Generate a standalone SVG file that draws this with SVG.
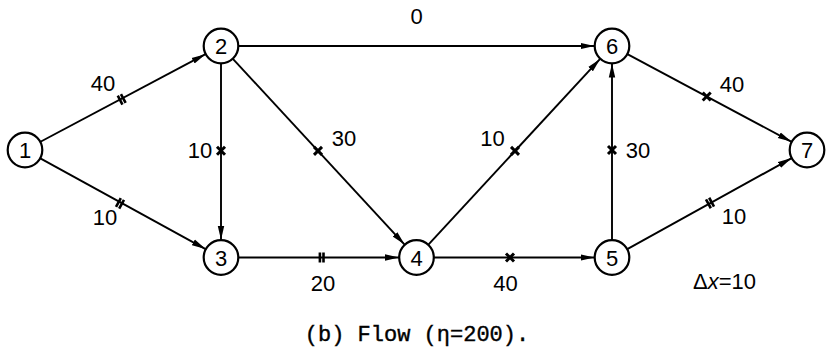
<svg xmlns="http://www.w3.org/2000/svg" xmlns:xlink="http://www.w3.org/1999/xlink" width="826" height="349" viewBox="0 0 826 349">
<style>
.node circle{fill:#fff;stroke:#000;stroke-width:2.2}
.node text,.lbl{font-family:"Liberation Sans",Arial,sans-serif;font-size:22px;fill:#000;text-anchor:middle}
.edge{stroke:#000;stroke-width:1.9;fill:none;marker-end:url(#arr)}
.cap{font-family:"Liberation Mono","Courier New",monospace;font-size:22px;fill:#000;stroke:#000;stroke-width:0.4;text-anchor:middle}
</style>
<defs>
<marker id="arr" viewBox="0 0 14 8" refX="14" refY="4" markerWidth="14" markerHeight="8" markerUnits="userSpaceOnUse" orient="auto">
<path d="M0,0.8 L14,4 L0,7.2 Z" fill="#000"/>
</marker>
<g id="bars"><path d="M-1.8,-5 V5 M1.8,-5 V5" stroke="#000" stroke-width="2.6" fill="none"/></g>
<g id="cross"><path d="M-4,-4 L4,4 M-4,4 L4,-4" stroke="#000" stroke-width="3" fill="none"/></g>
</defs>
<rect width="826" height="349" fill="#fff"/>
<g id="connectors">
<line class="edge" x1="40" y1="142" x2="205.5" y2="54.2"/>
<line class="edge" x1="39.9" y1="158.2" x2="205.6" y2="249.1"/>
<line class="edge" x1="221" y1="63.5" x2="221" y2="240"/>
<line class="edge" x1="238.5" y1="46" x2="594.5" y2="46"/>
<line class="edge" x1="232.9" y1="58.9" x2="404.6" y2="244.6"/>
<line class="edge" x1="238.5" y1="257.5" x2="399" y2="257.5"/>
<line class="edge" x1="428.4" y1="244.6" x2="600.1" y2="58.9"/>
<line class="edge" x1="434" y1="257.5" x2="594.5" y2="257.5"/>
<line class="edge" x1="612" y1="240" x2="612" y2="63.5"/>
<line class="edge" x1="627.4" y1="54.2" x2="791.6" y2="141.8"/>
<line class="edge" x1="627.3" y1="249.1" x2="791.7" y2="158.1"/>
<use xlink:href="#bars" transform="translate(121.7,99.3) rotate(-27.9)"/>
<use xlink:href="#bars" transform="translate(120,203.3) rotate(28.7)"/>
<use xlink:href="#bars" transform="translate(321.7,257.5)"/>
<use xlink:href="#bars" transform="translate(710,203) rotate(-28.9)"/>
<use xlink:href="#cross" transform="translate(221,150.7)"/>
<use xlink:href="#cross" transform="translate(318,150.9)"/>
<use xlink:href="#cross" transform="translate(515,150.9)"/>
<use xlink:href="#cross" transform="translate(510,257.5)"/>
<use xlink:href="#cross" transform="translate(612,150)"/>
<use xlink:href="#cross" transform="translate(706.7,96.5)"/>
<text class="lbl" x="103" y="91">40</text>
<text class="lbl" x="105" y="225">10</text>
<text class="lbl" x="200" y="158">10</text>
<text class="lbl" x="416.7" y="24">0</text>
<text class="lbl" x="344" y="146">30</text>
<text class="lbl" x="492.5" y="146">10</text>
<text class="lbl" x="732" y="91.5">40</text>
<text class="lbl" x="638" y="158">30</text>
<text class="lbl" x="734" y="224">10</text>
<text class="lbl" x="323" y="290.5">20</text>
<text class="lbl" x="505.5" y="290.5">40</text>
</g>
<g id="n1" class="node"><circle cx="25" cy="150" r="17.3"/><text x="25" y="158">1</text></g>
<g id="n2" class="node"><circle cx="221" cy="46" r="17.3"/><text x="221" y="54">2</text></g>
<g id="n3" class="node"><circle cx="221" cy="257.5" r="17.3"/><text x="221" y="265.5">3</text></g>
<g id="n4" class="node"><circle cx="416.5" cy="257.5" r="17.3"/><text x="416.5" y="265.5">4</text></g>
<g id="n5" class="node"><circle cx="612" cy="257.5" r="17.3"/><text x="612" y="265.5">5</text></g>
<g id="n6" class="node"><circle cx="612" cy="46" r="17.3"/><text x="612" y="54">6</text></g>
<g id="n7" class="node"><circle cx="807" cy="150" r="17.3"/><text x="807" y="158">7</text></g>
<text x="693" y="289" font-family="Liberation Sans, Arial, sans-serif" font-size="22" fill="#000">Δ<tspan font-style="italic">x</tspan>=10</text>
<text class="cap" x="417" y="341">(b) Flow (η=200).</text>
</svg>
